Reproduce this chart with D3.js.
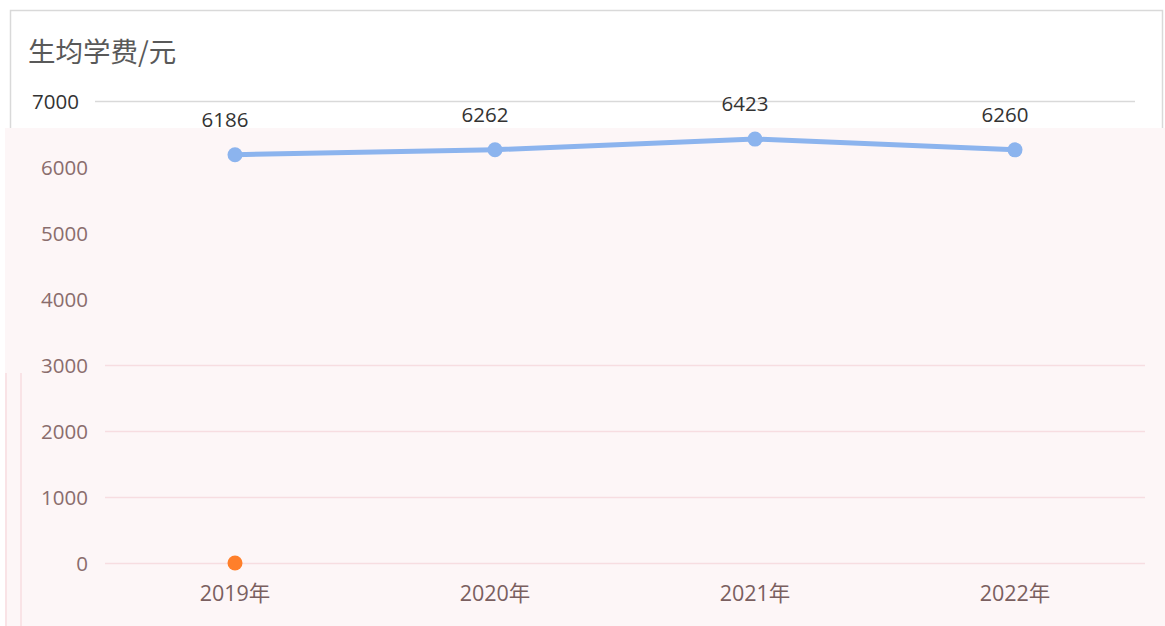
<!DOCTYPE html>
<html>
<head>
<meta charset="utf-8">
<script src="https://cdn.jsdelivr.net/npm/d3@7/dist/d3.min.js"></script>
<style>
  html, body { margin: 0; padding: 0; background: #ffffff; }
  svg { display: block; font-family: "Open Sans", "Noto Sans CJK SC", sans-serif; }
</style>
</head>
<body>
<svg id="chart" width="1165" height="626"></svg>
<script>
// Chart data
const years = ["2019年", "2020年", "2021年", "2022年"];
const feeValues = [6186, 6262, 6423, 6260];
const zeroSeries = [0, null, null, null];
const yTicks = [0, 1000, 2000, 3000, 4000, 5000, 6000, 7000];
const titleText = "生均学费/元";

const W = 1165, H = 626;
const svg = d3.select("#chart");

const x = d3.scaleBand().domain(years).range([105, 1145]);
const y = d3.scaleLinear().domain([0, 7000]).range([563, 101]);
const cx = d => x(d) + x.bandwidth() / 2;

const washTop = 128;     // top of the tinted lower panel
const washGridTop = 360; // gridlines resume below this line
const ruleTop = 373;

// outer frame of the upper card
svg.append("rect")
  .attr("x", 10.5).attr("y", 10.5)
  .attr("width", 1152).attr("height", 200)
  .attr("fill", "#ffffff").attr("stroke", "#d9d9d9").attr("stroke-width", 1.5);

// title
svg.append("text")
  .attr("x", 28).attr("y", 52)
  .attr("dy", "0.36em")
  .attr("font-family", "'Noto Sans CJK SC', sans-serif")
  .attr("font-size", 27.5).attr("fill", "#595959")
  .text(titleText);

// tinted panel
svg.append("rect")
  .attr("x", 5).attr("y", washTop)
  .attr("width", W - 5).attr("height", H - washTop)
  .attr("fill", "#fdf6f7");

// faint vertical rules at left of the lower panel
[6, 21].forEach(vx => {
  svg.append("line")
    .attr("x1", vx).attr("x2", vx)
    .attr("y1", ruleTop).attr("y2", H)
    .attr("stroke", "#f7dde1").attr("stroke-width", 1.5);
});

// y axis with gridlines
const yAxis = d3.axisLeft(y).tickValues(yTicks).tickSize(0).tickPadding(0).tickFormat(d3.format("d"));
const yg = svg.append("g").call(yAxis);
yg.select(".domain").remove();
yg.selectAll(".tick").each(function(d) {
  const g = d3.select(this);
  const py = y(d);
  const inUpper = py < washTop;
  const hidden = py >= washTop && py < washGridTop;
  g.select("line").remove();
  if (inUpper) {
    g.append("line").attr("x1", 95).attr("x2", 1135)
      .attr("stroke", "#d9d9d9").attr("stroke-width", 1.5);
  } else if (!hidden) {
    g.append("line").attr("x1", 105).attr("x2", 1145)
      .attr("stroke", "#f7dde1").attr("stroke-width", 1.5);
  }
  g.select("text")
    .attr("x", inUpper ? 79 : 88)
    .attr("dy", "0.35em")
    .attr("font-size", 20.5)
    .attr("font-family", "'Open Sans', sans-serif")
    .attr("fill", inUpper ? "#333333" : "#8a6d6d");
});

// x axis labels
const xAxis = d3.axisBottom(x).tickSize(0).tickPadding(0);
const xg = svg.append("g").attr("transform", "translate(0,593)").call(xAxis);
xg.select(".domain").remove();
xg.selectAll("text")
  .attr("dy", "0.35em")
  .attr("font-size", 21.5)
  .attr("font-family", "'Open Sans', 'Noto Sans CJK SC', sans-serif")
  .attr("fill", "#7a5f5f");

// fee line
const line = d3.line().x((d, i) => cx(years[i])).y(d => y(d));
svg.append("path")
  .datum(feeValues)
  .attr("d", line)
  .attr("fill", "none")
  .attr("stroke", "#8cb4ee")
  .attr("stroke-width", 5)
  .attr("stroke-linecap", "round");

svg.selectAll(".fee-dot")
  .data(feeValues)
  .join("circle")
  .attr("class", "fee-dot")
  .attr("cx", (d, i) => cx(years[i]))
  .attr("cy", d => y(d))
  .attr("r", 7.5)
  .attr("fill", "#8cb4ee");

// value labels
svg.selectAll(".fee-label")
  .data(feeValues)
  .join("text")
  .attr("class", "fee-label")
  .attr("x", (d, i) => cx(years[i]) - 10)
  .attr("y", d => y(d) - 35)
  .attr("dy", "0.35em")
  .attr("text-anchor", "middle")
  .attr("font-size", 20.5)
  .attr("font-family", "'Open Sans', sans-serif")
  .attr("fill", "#333333")
  .text(d => d);

// single-point series at zero
svg.selectAll(".zero-dot")
  .data(zeroSeries.map((v, i) => ({ v, i })).filter(d => d.v !== null))
  .join("circle")
  .attr("class", "zero-dot")
  .attr("cx", d => cx(years[d.i]))
  .attr("cy", d => y(d.v))
  .attr("r", 7.5)
  .attr("fill", "#ff7f2a");
</script>
</body>
</html>
